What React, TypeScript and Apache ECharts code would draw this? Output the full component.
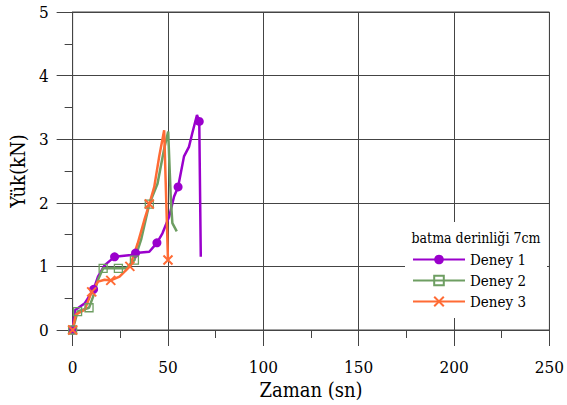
import React, { useEffect, useRef } from "react";
import * as echarts from "echarts";

const xTicks = [0, 50, 100, 150, 200, 250];
const yTicks = [0, 1, 2, 3, 4, 5];
const seriesNames = ["Deney 1", "Deney 2", "Deney 3"];
const legendTitle = "batma derinliği 7cm";
const xName = "Zaman (sn)";
const yName = "Yük(kN)";

// Deney 1
const d1T = [0, 1.2, 6.4, 11, 13.3, 16.8, 22, 30.7, 33, 40.2, 44.2, 47.1, 50.6, 53.2, 55.3, 58.4, 61, 62.7, 65.2, 66.4, 67.2];
const d1V = [0, 0.31, 0.42, 0.64, 0.84, 1.02, 1.15, 1.18, 1.21, 1.23, 1.37, 1.52, 1.78, 2.1, 2.25, 2.73, 2.88, 3.09, 3.38, 3.28, 1.15];
const d1Markers = [0, 11, 22, 33, 44.2, 55.3, 66.4];

// Deney 2
const d2T = [0, 2.6, 8.6, 10.7, 13.3, 16, 24, 28, 32.4, 35.9, 40.2, 44.5, 48, 50.1, 51.5, 52.3, 54.6];
const d2V = [0, 0.29, 0.35, 0.52, 0.79, 0.97, 0.97, 0.97, 1.1, 1.42, 1.98, 2.3, 2.85, 3.12, 2.05, 1.68, 1.55];
const d2Markers = [0, 2.6, 8.6, 16, 24, 32.4, 40.2];

// Deney 3
const d3T = [0, 1.6, 6.4, 10, 13.3, 16.8, 20, 24.6, 30, 34.1, 37.6, 40.2, 42.8, 45.4, 48, 50];
const d3V = [0, 0.24, 0.32, 0.6, 0.76, 0.79, 0.78, 0.84, 1.0, 1.36, 1.73, 1.98, 2.25, 2.73, 3.14, 1.1];
const d3Markers = [0, 10, 20, 30, 40.2, 50];

const COLORS = ["#9A00CC", "#6E9E62", "#FF6B35"];
const FONT = "DejaVu Serif Condensed";

function build(ts: number[], vs: number[], marks: number[]) {
  return ts.map((t, i) =>
    marks.includes(t) ? { value: [t, vs[i]] } : { value: [t, vs[i]], symbol: "none" }
  );
}

export default function App() {
  const ref = useRef<HTMLDivElement>(null);
  useEffect(() => {
    if (!ref.current) return;
    const chart = echarts.init(ref.current, null, { renderer: "svg" });
    const axisCommon = {
      type: "value" as const,
      axisLine: { show: true, lineStyle: { color: "#444", width: 1 } },
      axisTick: { show: true, inside: false, length: 16, lineStyle: { color: "#444", width: 1 } },
      minorTick: { show: true, splitNumber: 2, length: 8, lineStyle: { color: "#444", width: 1 } },
      splitLine: { show: true, lineStyle: { color: "#444", width: 1 } },
      minorSplitLine: { show: false },
      nameLocation: "middle" as const,
    };
    chart.setOption({
      animation: false,
      backgroundColor: "#fff",
      textStyle: { fontFamily: FONT },
      grid: { left: 71, right: 15, top: 12, bottom: 75, show: true, borderColor: "#444", borderWidth: 1 },
      xAxis: {
        ...axisCommon,
        min: xTicks[0],
        max: xTicks[xTicks.length - 1],
        interval: 50,
        name: xName,
        nameGap: 49,
        nameTextStyle: { fontFamily: FONT, fontSize: 20, color: "#000" },
        axisLabel: { fontFamily: FONT, fontSize: 17, color: "#000", margin: 28 },
      },
      yAxis: {
        ...axisCommon,
        min: yTicks[0],
        max: yTicks[yTicks.length - 1],
        interval: 1,
        name: yName,
        nameGap: 37,
        nameTextStyle: { fontFamily: FONT, fontSize: 20, color: "#000" },
        axisLabel: { fontFamily: FONT, fontSize: 17, color: "#000", margin: 24 },
      },
      graphic: [
        { type: "rect", z: 3, shape: { x: 405, y: 222, width: 142, height: 96 }, style: { fill: "#fff" } },
        {
          type: "text",
          z: 5,
          x: 476,
          y: 238,
          style: { text: legendTitle, fontFamily: FONT, fontSize: 14, fill: "#000", align: "center", verticalAlign: "middle" },
        },
      ],
      legend: {
        orient: "vertical",
        left: 412,
        top: 252,
        padding: 0,
        itemWidth: 52,
        itemHeight: 12,
        itemGap: 6,
        z: 6,
        textStyle: { fontFamily: FONT, fontSize: 15, color: "#000" },
        data: seriesNames,
      },
      series: [
        {
          name: seriesNames[0],
          type: "line",
          data: build(d1T, d1V, d1Markers),
          symbol: "circle",
          symbolSize: 9,
          showAllSymbol: true,
          lineStyle: { color: COLORS[0], width: 2.5 },
          itemStyle: { color: COLORS[0] },
        },
        {
          name: seriesNames[1],
          type: "line",
          data: build(d2T, d2V, d2Markers),
          symbol: "rect",
          symbolSize: 8,
          showAllSymbol: true,
          lineStyle: { color: COLORS[1], width: 2.5 },
          itemStyle: { color: "transparent", borderColor: COLORS[1], borderWidth: 1.3 },
        },
        {
          name: seriesNames[2],
          type: "line",
          data: build(d3T, d3V, d3Markers),
          symbol: "path://M0,0L10,10M10,0L0,10",
          symbolSize: 9,
          showAllSymbol: true,
          lineStyle: { color: COLORS[2], width: 2.5 },
          itemStyle: { color: COLORS[2], borderColor: COLORS[2], borderWidth: 2 },
        },
      ],
    });
    return () => chart.dispose();
  }, []);
  return (
    <div
      ref={ref}
      style={{ position: "fixed", left: 0, top: 0, width: 567, height: 405, background: "#fff" }}
    />
  );
}
